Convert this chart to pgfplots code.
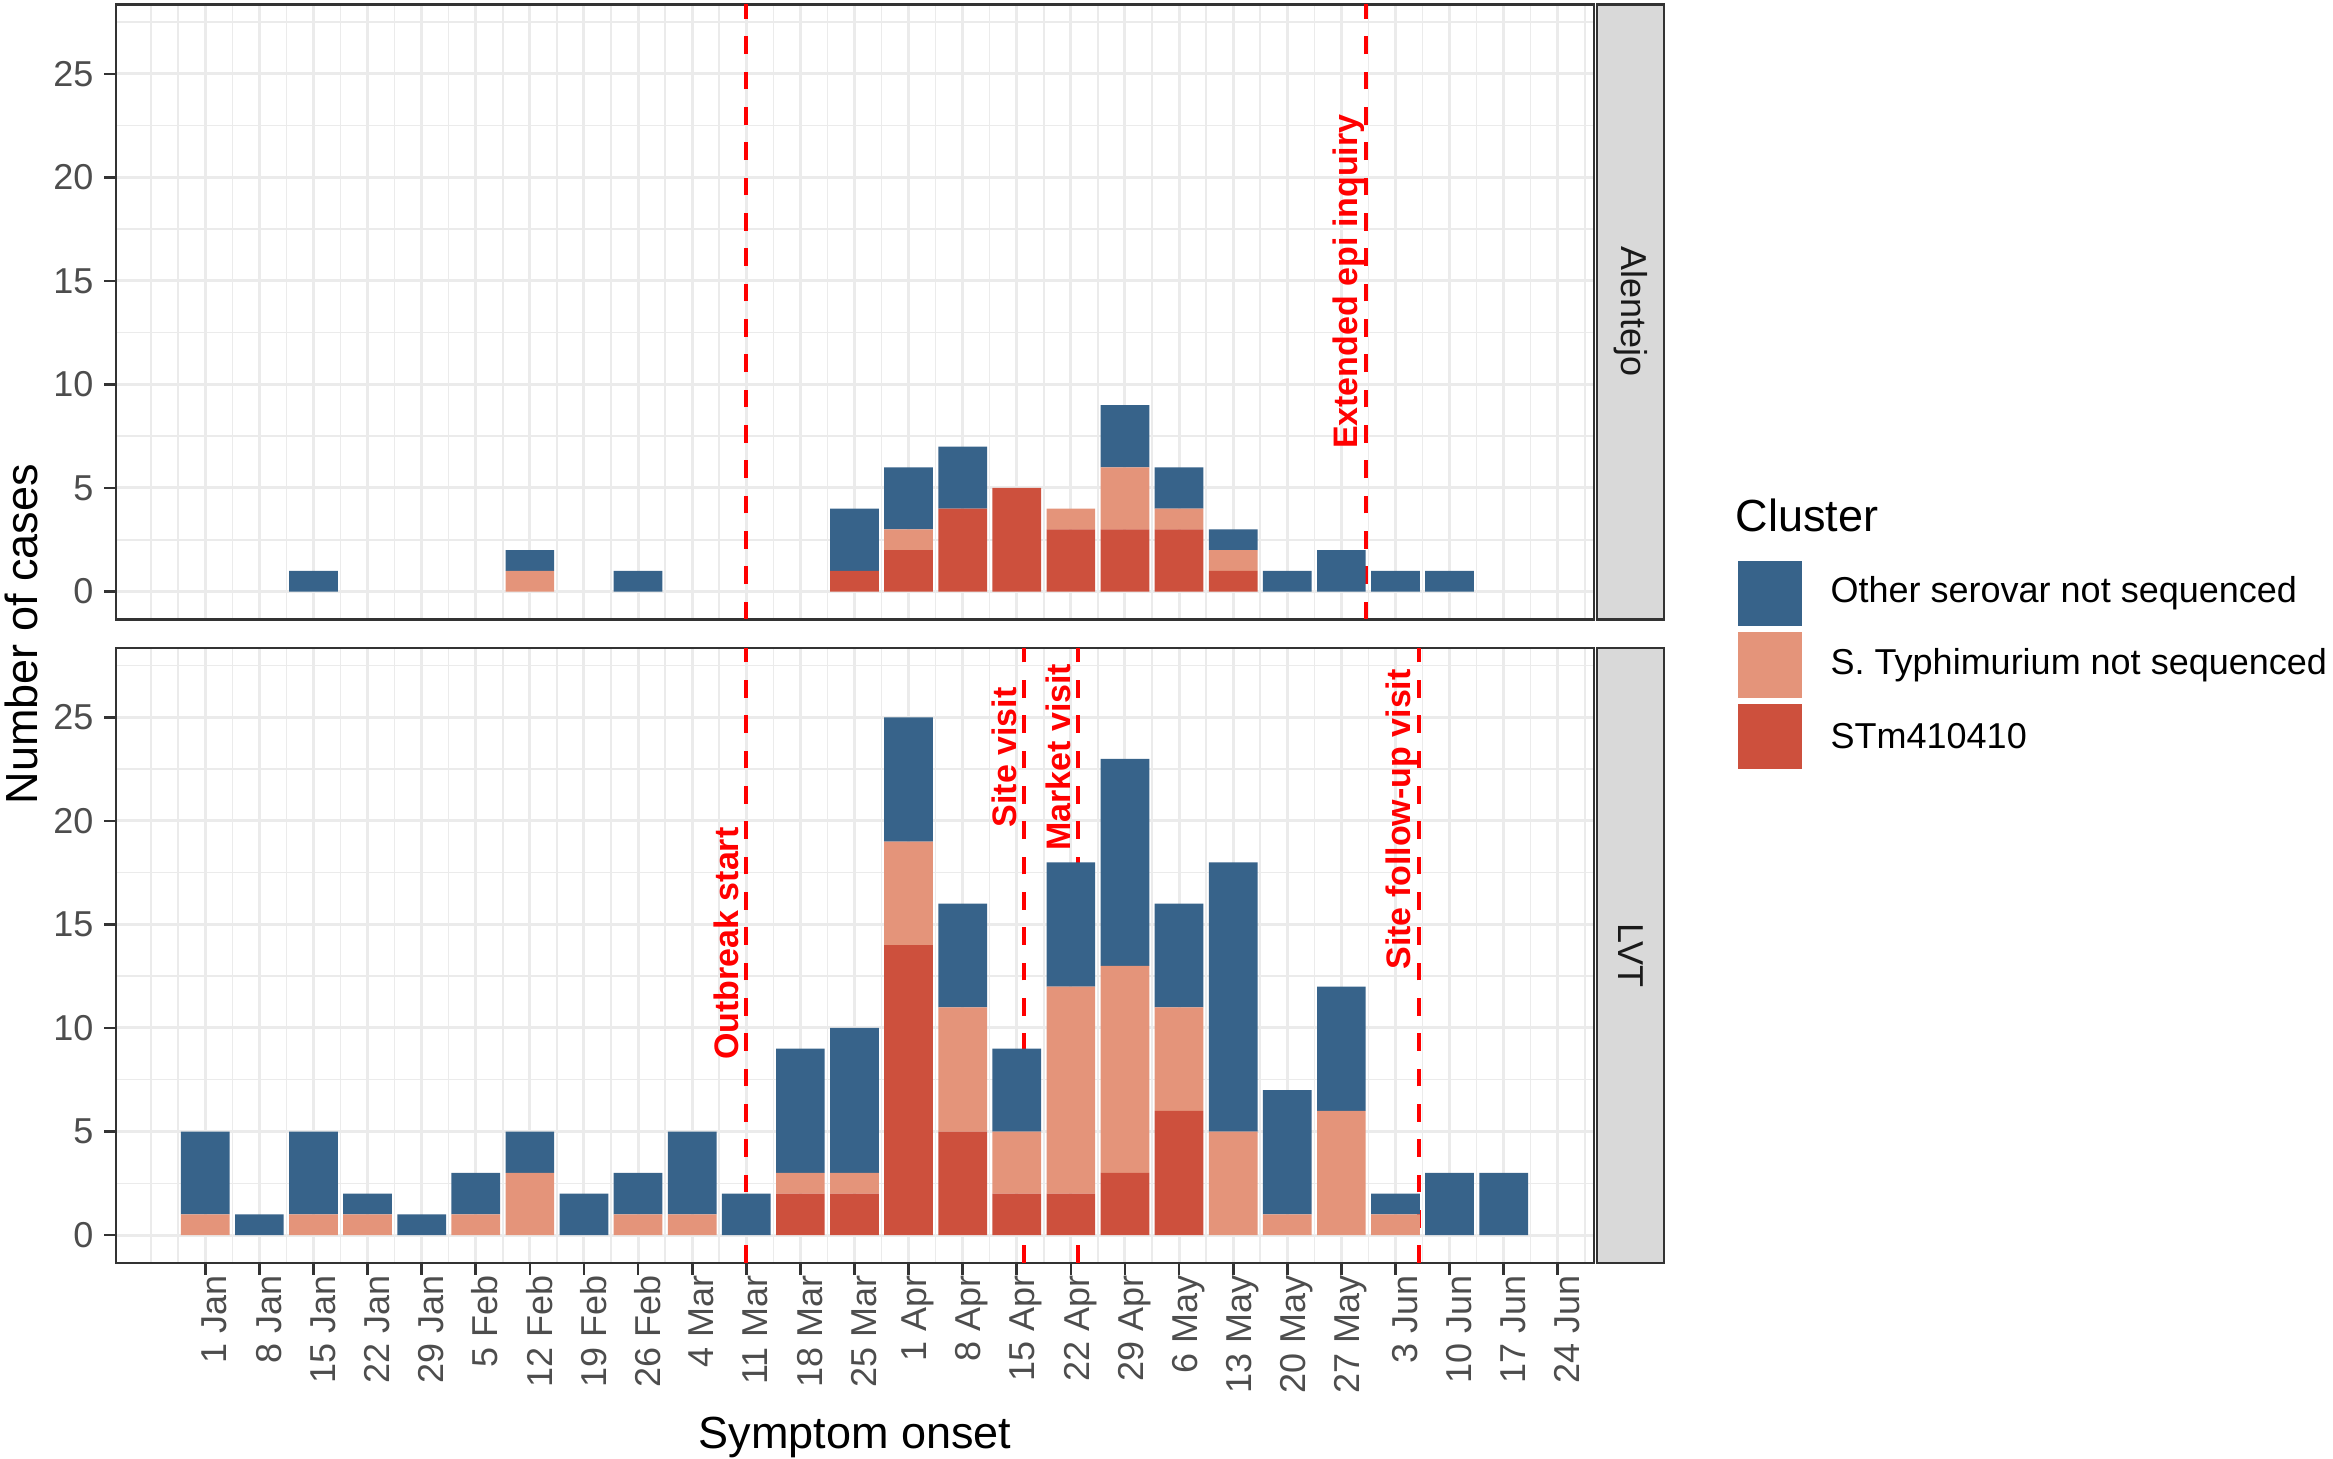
\documentclass[border=0pt]{standalone}
\usepackage{fontspec}
\setmainfont{Liberation Sans}
\usepackage{pgfplots}
\pgfplotsset{compat=1.18}
\usepackage{pgfplotstable}

\definecolor{cblue}{HTML}{37638A}
\definecolor{csalmon}{HTML}{E4947A}
\definecolor{cred}{HTML}{CD503D}
\definecolor{gridgray}{HTML}{EBEBEB}
\definecolor{grey20}{HTML}{333333}
\definecolor{grey30}{HTML}{4D4D4D}
\definecolor{grey10}{HTML}{1A1A1A}
\definecolor{stripgray}{HTML}{D9D9D9}
\definecolor{vred}{HTML}{FF0000}

\pgfplotstableread{
x red salmon blue
0 0 0 0
1 0 0 0
2 0 0 1
3 0 0 0
4 0 0 0
5 0 0 0
6 0 1 1
7 0 0 0
8 0 0 1
9 0 0 0
10 0 0 0
11 0 0 0
12 1 0 3
13 2 1 3
14 4 0 3
15 5 0 0
16 3 1 0
17 3 3 3
18 3 1 2
19 1 1 1
20 0 0 1
21 0 0 2
22 0 0 1
23 0 0 1
24 0 0 0
}\alentejo

\pgfplotstableread{
x red salmon blue
0 0 1 4
1 0 0 1
2 0 1 4
3 0 1 1
4 0 0 1
5 0 1 2
6 0 3 2
7 0 0 2
8 0 1 2
9 0 1 4
10 0 0 2
11 2 1 6
12 2 1 7
13 14 5 6
14 5 6 5
15 2 3 4
16 2 10 6
17 3 10 10
18 6 5 5
19 0 5 13
20 0 1 6
21 0 6 6
22 0 1 1
23 0 0 3
24 0 0 3
}\lvt

\tikzset{
  vline/.style={vred, line width=1.2bp, dash pattern=on 5.3bp off 5.3bp},
  vlab/.style={xshift=-2.4bp, rotate=90, anchor=base, text=vred, font=\fontsize{10.2bp}{12bp}\selectfont\bfseries, inner sep=0pt},
}

\pgfplotsset{
  panel/.style={
    scale only axis, width=443.4bp, height=184.5bp,
    xmin=-1.65, xmax=25.67, ymin=-1.35, ymax=28.35,
    xtick={0,...,25},
    minor xtick={-1,-0.5,0.5,1.5,2.5,3.5,4.5,5.5,6.5,7.5,8.5,9.5,10.5,11.5,12.5,13.5,14.5,15.5,16.5,17.5,18.5,19.5,20.5,21.5,22.5,23.5,24.5,25.5},
    ytick={0,5,10,15,20,25},
    minor ytick={2.5,7.5,12.5,17.5,22.5,27.5},
    xmajorgrids, xminorgrids, ymajorgrids, yminorgrids,
    major grid style={gridgray, line width=0.9bp},
    minor grid style={gridgray, line width=0.45bp},
    tick align=outside, tick pos=left,
    major tick length=3.5bp, minor tick length=0pt,
    tick style={grey20, line width=0.8bp},
    axis line style={grey20, line width=0.8bp},
    ybar stacked, bar width=0.9,
    /pgf/number format/assume math mode=true,
    yticklabel style={font=\fontsize{10.8bp}{12bp}\selectfont, text=grey30, inner sep=0pt, xshift=-3.1bp},
  },
  segred/.style={fill=cred, draw=none},
  segsal/.style={fill=csalmon, draw=none},
  segblue/.style={fill=cblue, draw=none},
}

\begin{document}
\begin{tikzpicture}
\path[use as bounding box] (0,0) rectangle (699.9bp,437.7bp);

% Top panel: Alentejo
\begin{axis}[panel, at={(34.8bp,251.85bp)}, anchor=south west,
  xticklabels={}, xtick style={draw=none}]
  \addplot[segred] table[x=x, y=red] {\alentejo};
  \addplot[segsal] table[x=x, y=salmon] {\alentejo};
  \addplot[segblue] table[x=x, y=blue] {\alentejo};
  \draw[vline] (axis cs:10,-1.35) -- (axis cs:10,28.35);
  \draw[vline] (axis cs:21.45,-1.35) -- (axis cs:21.45,28.35);
  \node[vlab] at (axis cs:21.45,14.96) {Extended epi inquiry};
\end{axis}

% Bottom panel: LVT
\begin{axis}[panel, at={(34.8bp,58.8bp)}, anchor=south west,
  xticklabels={1 Jan,8 Jan,15 Jan,22 Jan,29 Jan,5 Feb,12 Feb,19 Feb,26 Feb,4 Mar,11 Mar,18 Mar,25 Mar,1 Apr,8 Apr,15 Apr,22 Apr,29 Apr,6 May,13 May,20 May,27 May,3 Jun,10 Jun,17 Jun,24 Jun},
  xticklabel style={rotate=90, anchor=east, font=\fontsize{10.8bp}{12bp}\selectfont, text=grey30, inner sep=0pt, yshift=-2.8bp}]
  \addplot[segred] table[x=x, y=red] {\lvt};
  \addplot[segsal] table[x=x, y=salmon] {\lvt};
  \addplot[segblue] table[x=x, y=blue] {\lvt};
  \draw[vline] (axis cs:10,-1.35) -- (axis cs:10,28.35);
  \draw[vline] (axis cs:15.14,-1.35) -- (axis cs:15.14,28.35);
  \draw[vline] (axis cs:16.14,-1.35) -- (axis cs:16.14,28.35);
  \draw[vline] (axis cs:22.43,-1.35) -- (axis cs:22.43,28.35);
  \node[vlab] at (axis cs:10,14.07) {Outbreak start};
  \node[vlab] at (axis cs:15.14,23.07) {Site visit};
  \node[vlab] at (axis cs:16.14,23.07) {Market visit};
  \node[vlab] at (axis cs:22.43,20.07) {Site follow-up visit};
\end{axis}

% Facet strips
\draw[fill=stripgray, draw=grey20, line width=0.8bp] (479.1bp,251.85bp) rectangle (499.2bp,436.35bp);
\node[rotate=-90, text=grey10, font=\fontsize{10.8bp}{12bp}\selectfont] at (489.15bp,344.1bp) {Alentejo};
\draw[fill=stripgray, draw=grey20, line width=0.8bp] (479.1bp,58.8bp) rectangle (499.2bp,243.3bp);
\node[rotate=-90, text=grey10, font=\fontsize{10.8bp}{12bp}\selectfont] at (489.15bp,151.05bp) {LVT};

% Axis titles
\node[rotate=90, font=\fontsize{13.5bp}{16bp}\selectfont] at (6.3bp,247.5bp) {Number of cases};
\node[anchor=base, font=\fontsize{13.5bp}{16bp}\selectfont] at (256.5bp,3.3bp) {Symptom onset};

% Legend
\node[anchor=base west, inner sep=0pt, font=\fontsize{13.5bp}{16bp}\selectfont] at (520.5bp,278.1bp) {Cluster};
\fill[cblue] (521.4bp,249.9bp) rectangle (540.6bp,269.4bp);
\fill[csalmon] (521.4bp,228.3bp) rectangle (540.6bp,248.1bp);
\fill[cred] (521.4bp,207.0bp) rectangle (540.6bp,226.5bp);
\node[anchor=west, inner sep=0pt, font=\fontsize{10.8bp}{12bp}\selectfont] at (549bp,259.65bp) {Other serovar not sequenced};
\node[anchor=west, inner sep=0pt, font=\fontsize{10.8bp}{12bp}\selectfont] at (549bp,238.2bp) {S. Typhimurium not sequenced};
\node[anchor=west, inner sep=0pt, font=\fontsize{10.8bp}{12bp}\selectfont] at (549bp,216.75bp) {STm410410};
\end{tikzpicture}
\end{document}
